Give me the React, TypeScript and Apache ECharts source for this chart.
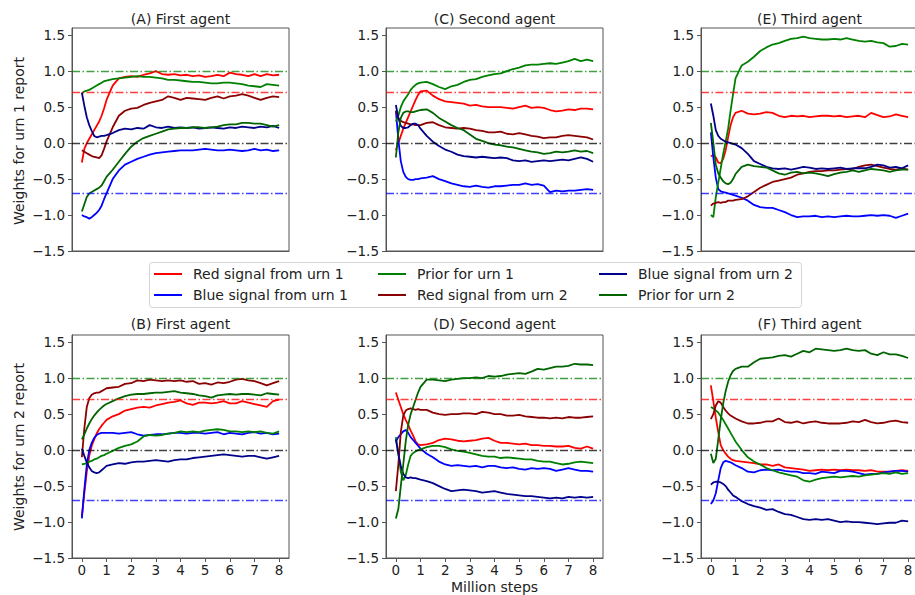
import React, { useEffect, useRef } from "react";
import * as echarts from "echarts";

// x positions (million steps) shared by every curve
const STEPS = [0, 0.1, 0.2, 0.3, 0.4, 0.5, 0.6, 0.7, 0.8, 0.9, 1, 1.25, 1.5, 1.75, 2, 2.25, 2.5, 2.75, 3, 3.25, 3.5, 3.75, 4, 4.25, 4.5, 4.75, 5, 5.25, 5.5, 5.75, 6, 6.25, 6.5, 6.75, 7, 7.25, 7.5, 7.75, 8];

// (A) First agent, urn 1 report
const A_RED1 = [-0.27, -0.08, 0.0, 0.06, 0.12, 0.18, 0.24, 0.3, 0.38, 0.48, 0.6, 0.8, 0.9, 0.92, 0.93, 0.92, 0.95, 0.97, 1.0, 0.96, 0.95, 0.96, 0.94, 0.95, 0.93, 0.94, 0.92, 0.93, 0.95, 0.93, 0.98, 0.96, 0.95, 0.93, 0.96, 0.93, 0.96, 0.94, 0.95];
const A_BLUE1 = [-1.0, -1.02, -1.03, -1.05, -1.03, -1.0, -0.97, -0.93, -0.87, -0.78, -0.7, -0.5, -0.38, -0.3, -0.26, -0.22, -0.19, -0.16, -0.14, -0.13, -0.12, -0.11, -0.1, -0.1, -0.1, -0.09, -0.08, -0.09, -0.1, -0.1, -0.09, -0.1, -0.11, -0.1, -0.08, -0.1, -0.09, -0.11, -0.1];
const A_PRIOR1 = [0.69, 0.72, 0.73, 0.74, 0.76, 0.78, 0.8, 0.82, 0.84, 0.86, 0.87, 0.89, 0.9, 0.91, 0.92, 0.93, 0.92, 0.92, 0.91, 0.9, 0.88, 0.88, 0.87, 0.86, 0.85, 0.85, 0.84, 0.83, 0.83, 0.84, 0.84, 0.83, 0.82, 0.8, 0.79, 0.78, 0.82, 0.81, 0.8];
const A_RED2 = [-0.1, -0.12, -0.14, -0.16, -0.18, -0.19, -0.2, -0.21, -0.17, -0.08, 0.02, 0.22, 0.38, 0.45, 0.48, 0.49, 0.53, 0.56, 0.58, 0.6, 0.65, 0.63, 0.6, 0.63, 0.62, 0.61, 0.6, 0.63, 0.65, 0.62, 0.65, 0.66, 0.68, 0.66, 0.63, 0.6, 0.63, 0.65, 0.64];
const A_BLUE2 = [0.7, 0.52, 0.36, 0.25, 0.17, 0.1, 0.08, 0.09, 0.1, 0.1, 0.11, 0.14, 0.18, 0.2, 0.19, 0.21, 0.2, 0.25, 0.22, 0.21, 0.23, 0.21, 0.22, 0.21, 0.22, 0.2, 0.21, 0.22, 0.21, 0.2, 0.22, 0.21, 0.23, 0.22, 0.21, 0.23, 0.22, 0.24, 0.21];
const A_PRIOR2 = [-0.95, -0.85, -0.75, -0.7, -0.68, -0.66, -0.64, -0.62, -0.59, -0.53, -0.47, -0.37, -0.26, -0.15, -0.05, 0.02, 0.07, 0.1, 0.13, 0.16, 0.19, 0.2, 0.21, 0.21, 0.22, 0.22, 0.21, 0.22, 0.23, 0.25, 0.26, 0.26, 0.28, 0.28, 0.27, 0.27, 0.25, 0.23, 0.25];

// (C) Second agent, urn 1 report
const C_RED1 = [-0.1, 0.0, 0.1, 0.2, 0.28, 0.36, 0.44, 0.52, 0.6, 0.67, 0.72, 0.73, 0.66, 0.61, 0.58, 0.57, 0.56, 0.55, 0.52, 0.53, 0.51, 0.5, 0.5, 0.5, 0.49, 0.48, 0.5, 0.52, 0.49, 0.5, 0.49, 0.46, 0.44, 0.45, 0.47, 0.46, 0.48, 0.48, 0.47];
const C_BLUE1 = [0.45, 0.05, -0.25, -0.4, -0.47, -0.5, -0.51, -0.51, -0.5, -0.5, -0.49, -0.48, -0.46, -0.5, -0.53, -0.56, -0.58, -0.6, -0.61, -0.59, -0.61, -0.62, -0.6, -0.6, -0.59, -0.58, -0.58, -0.56, -0.58, -0.57, -0.59, -0.68, -0.66, -0.67, -0.66, -0.66, -0.65, -0.64, -0.65];
const C_PRIOR1 = [0.3, 0.38, 0.5, 0.58, 0.63, 0.68, 0.74, 0.78, 0.81, 0.83, 0.84, 0.85, 0.82, 0.78, 0.75, 0.79, 0.81, 0.85, 0.88, 0.89, 0.92, 0.94, 0.96, 0.97, 1.0, 1.03, 1.05, 1.08, 1.09, 1.09, 1.1, 1.11, 1.1, 1.12, 1.14, 1.17, 1.14, 1.16, 1.14];
const C_RED2 = [0.45, 0.35, 0.31, 0.29, 0.28, 0.27, 0.26, 0.26, 0.25, 0.25, 0.25, 0.28, 0.29, 0.25, 0.22, 0.21, 0.2, 0.21, 0.2, 0.18, 0.17, 0.15, 0.15, 0.16, 0.13, 0.12, 0.14, 0.12, 0.1, 0.09, 0.07, 0.08, 0.08, 0.1, 0.11, 0.1, 0.09, 0.08, 0.05];
const C_BLUE2 = [0.53, 0.35, 0.24, 0.21, 0.21, 0.22, 0.25, 0.27, 0.27, 0.25, 0.2, 0.1, 0.02, -0.04, -0.09, -0.12, -0.16, -0.18, -0.19, -0.2, -0.19, -0.2, -0.21, -0.2, -0.21, -0.24, -0.25, -0.24, -0.26, -0.25, -0.24, -0.25, -0.24, -0.23, -0.24, -0.22, -0.2, -0.22, -0.26];
const C_PRIOR2 = [-0.2, 0.15, 0.35, 0.42, 0.44, 0.44, 0.43, 0.43, 0.44, 0.45, 0.46, 0.47, 0.42, 0.35, 0.3, 0.25, 0.21, 0.18, 0.12, 0.06, 0.03, 0.0, -0.02, -0.03, -0.05, -0.06, -0.08, -0.1, -0.12, -0.13, -0.15, -0.14, -0.12, -0.13, -0.12, -0.1, -0.12, -0.11, -0.14];

// (E) Third agent, urn 1 report
const E_RED1 = [-0.18, -0.17, -0.2, -0.27, -0.28, -0.22, -0.1, 0.08, 0.25, 0.36, 0.42, 0.45, 0.41, 0.4, 0.41, 0.43, 0.42, 0.38, 0.36, 0.38, 0.37, 0.38, 0.36, 0.37, 0.38, 0.38, 0.37, 0.38, 0.36, 0.37, 0.38, 0.36, 0.42, 0.39, 0.36, 0.37, 0.4, 0.38, 0.36];
const E_BLUE1 = [0.15, -0.2, -0.48, -0.64, -0.67, -0.68, -0.69, -0.7, -0.71, -0.72, -0.73, -0.76, -0.8, -0.86, -0.89, -0.9, -0.9, -0.93, -0.96, -1.0, -1.03, -1.02, -1.02, -1.01, -1.03, -1.02, -1.03, -1.02, -1.01, -1.02, -1.02, -1.01, -1.0, -1.01, -1.0, -1.01, -1.04, -1.01, -0.98];
const E_PRIOR1 = [-1.0, -1.03, -0.75, -0.55, -0.35, -0.15, 0.02, 0.2, 0.45, 0.68, 0.9, 1.08, 1.13, 1.2, 1.28, 1.33, 1.37, 1.39, 1.42, 1.45, 1.46, 1.48, 1.46, 1.45, 1.44, 1.44, 1.45, 1.44, 1.46, 1.44, 1.42, 1.41, 1.42, 1.4, 1.39, 1.34, 1.35, 1.38, 1.37];
const E_RED2 = [-0.87, -0.84, -0.83, -0.82, -0.83, -0.82, -0.82, -0.8, -0.8, -0.8, -0.79, -0.78, -0.74, -0.68, -0.62, -0.58, -0.54, -0.52, -0.5, -0.48, -0.44, -0.42, -0.4, -0.39, -0.39, -0.38, -0.38, -0.37, -0.36, -0.36, -0.33, -0.31, -0.3, -0.32, -0.34, -0.36, -0.37, -0.35, -0.37];
const E_BLUE2 = [0.55, 0.38, 0.18, 0.1, 0.06, 0.04, 0.02, 0.01, 0.0, -0.01, -0.02, -0.07, -0.15, -0.25, -0.29, -0.33, -0.35, -0.36, -0.35, -0.37, -0.35, -0.33, -0.34, -0.36, -0.35, -0.36, -0.35, -0.34, -0.36, -0.35, -0.35, -0.35, -0.33, -0.3, -0.31, -0.34, -0.33, -0.35, -0.31];
const E_PRIOR2 = [0.28, 0.0, -0.3, -0.42, -0.48, -0.53, -0.56, -0.57, -0.55, -0.5, -0.43, -0.33, -0.3, -0.32, -0.33, -0.34, -0.38, -0.42, -0.44, -0.41, -0.4, -0.42, -0.41, -0.42, -0.44, -0.46, -0.43, -0.41, -0.4, -0.38, -0.4, -0.38, -0.36, -0.37, -0.38, -0.4, -0.38, -0.37, -0.37];

// (B) First agent, urn 2 report
const B_RED1 = [-0.92, -0.6, -0.3, -0.08, 0.06, 0.15, 0.23, 0.29, 0.34, 0.38, 0.42, 0.47, 0.5, 0.55, 0.57, 0.59, 0.6, 0.59, 0.62, 0.64, 0.66, 0.67, 0.69, 0.65, 0.63, 0.66, 0.66, 0.65, 0.66, 0.68, 0.65, 0.65, 0.68, 0.66, 0.64, 0.62, 0.6, 0.68, 0.7];
const B_BLUE1 = [-0.95, -0.55, -0.2, 0.0, 0.1, 0.17, 0.21, 0.23, 0.24, 0.24, 0.24, 0.24, 0.23, 0.24, 0.25, 0.22, 0.2, 0.21, 0.22, 0.22, 0.23, 0.24, 0.24, 0.23, 0.24, 0.24, 0.23, 0.24, 0.25, 0.22, 0.24, 0.23, 0.22, 0.24, 0.25, 0.23, 0.24, 0.22, 0.23];
const B_PRIOR1 = [-0.2, -0.19, -0.18, -0.16, -0.15, -0.13, -0.12, -0.1, -0.08, -0.07, -0.05, -0.01, 0.03, 0.06, 0.08, 0.12, 0.19, 0.21, 0.2, 0.21, 0.23, 0.24, 0.26, 0.25, 0.26, 0.25, 0.27, 0.28, 0.29, 0.28, 0.26, 0.26, 0.25, 0.26, 0.25, 0.26, 0.24, 0.23, 0.26];
const B_RED2 = [-0.1, 0.3, 0.6, 0.72, 0.77, 0.79, 0.8, 0.8, 0.82, 0.84, 0.86, 0.87, 0.88, 0.92, 0.93, 0.97, 0.96, 0.98, 0.97, 0.96, 0.97, 0.96, 0.97, 0.95, 0.96, 0.92, 0.93, 0.91, 0.94, 0.93, 0.95, 0.98, 0.99, 0.97, 0.96, 0.93, 0.9, 0.93, 0.96];
const B_BLUE2 = [0.02, -0.08, -0.17, -0.24, -0.29, -0.31, -0.32, -0.31, -0.28, -0.25, -0.22, -0.2, -0.18, -0.19, -0.17, -0.16, -0.16, -0.15, -0.14, -0.15, -0.16, -0.14, -0.13, -0.13, -0.11, -0.1, -0.09, -0.08, -0.07, -0.06, -0.07, -0.08, -0.09, -0.08, -0.08, -0.1, -0.12, -0.1, -0.08];
const B_PRIOR2 = [0.15, 0.22, 0.3, 0.37, 0.43, 0.48, 0.52, 0.56, 0.59, 0.62, 0.64, 0.68, 0.72, 0.75, 0.77, 0.78, 0.78, 0.79, 0.8, 0.8, 0.81, 0.82, 0.8, 0.79, 0.78, 0.76, 0.75, 0.73, 0.76, 0.77, 0.78, 0.77, 0.78, 0.78, 0.77, 0.76, 0.79, 0.78, 0.77];

// (D) Second agent, urn 2 report
const D_RED1 = [0.8, 0.7, 0.6, 0.5, 0.42, 0.35, 0.27, 0.2, 0.12, 0.08, 0.07, 0.08, 0.1, 0.14, 0.16, 0.15, 0.13, 0.12, 0.13, 0.14, 0.16, 0.17, 0.13, 0.1, 0.1, 0.09, 0.08, 0.09, 0.07, 0.07, 0.06, 0.06, 0.05, 0.05, 0.06, 0.03, 0.02, 0.05, 0.02];
const D_BLUE1 = [0.12, 0.18, 0.22, 0.26, 0.28, 0.24, 0.18, 0.14, 0.1, 0.06, 0.02, -0.05, -0.1, -0.16, -0.2, -0.22, -0.21, -0.22, -0.23, -0.22, -0.24, -0.22, -0.22, -0.24, -0.25, -0.24, -0.26, -0.27, -0.25, -0.26, -0.25, -0.26, -0.29, -0.27, -0.25, -0.27, -0.29, -0.29, -0.3];
const D_PRIOR1 = [0.18, -0.05, -0.3, -0.42, -0.35, -0.2, -0.08, -0.04, -0.02, 0.0, 0.01, 0.04, 0.06, 0.06, 0.04, 0.01, -0.01, -0.02, -0.04, -0.06, -0.08, -0.09, -0.09, -0.11, -0.1, -0.11, -0.12, -0.13, -0.13, -0.15, -0.16, -0.16, -0.18, -0.2, -0.19, -0.17, -0.16, -0.17, -0.18];
const D_RED2 = [-0.57, -0.2, 0.25, 0.48, 0.55, 0.57, 0.58, 0.57, 0.56, 0.57, 0.56, 0.56, 0.52, 0.5, 0.49, 0.5, 0.5, 0.51, 0.51, 0.5, 0.53, 0.52, 0.5, 0.5, 0.48, 0.48, 0.49, 0.47, 0.46, 0.45, 0.45, 0.44, 0.45, 0.44, 0.46, 0.45, 0.45, 0.46, 0.47];
const D_BLUE2 = [0.15, -0.05, -0.22, -0.33, -0.38, -0.39, -0.38, -0.39, -0.39, -0.4, -0.41, -0.43, -0.46, -0.5, -0.54, -0.57, -0.56, -0.55, -0.56, -0.57, -0.59, -0.58, -0.57, -0.59, -0.61, -0.62, -0.63, -0.64, -0.64, -0.65, -0.66, -0.67, -0.66, -0.67, -0.65, -0.66, -0.65, -0.66, -0.65];
const D_PRIOR2 = [-0.95, -0.82, -0.5, -0.2, 0.12, 0.35, 0.5, 0.6, 0.7, 0.8, 0.88, 0.98, 0.98, 0.97, 0.96, 0.98, 0.99, 1.0, 1.0, 1.01, 1.0, 1.03, 1.02, 1.03, 1.05, 1.06, 1.07, 1.06, 1.09, 1.13, 1.12, 1.14, 1.16, 1.16, 1.17, 1.2, 1.19, 1.19, 1.18];

// (F) Third agent, urn 2 report
const F_RED1 = [0.9, 0.68, 0.45, 0.25, 0.07, 0.0, -0.05, -0.09, -0.12, -0.14, -0.15, -0.16, -0.17, -0.18, -0.2, -0.2, -0.22, -0.2, -0.24, -0.25, -0.26, -0.27, -0.29, -0.28, -0.27, -0.28, -0.27, -0.28, -0.27, -0.28, -0.28, -0.29, -0.28, -0.3, -0.3, -0.3, -0.29, -0.28, -0.29];
const F_BLUE1 = [-0.75, -0.7, -0.6, -0.42, -0.25, -0.17, -0.15, -0.16, -0.17, -0.19, -0.21, -0.25, -0.3, -0.31, -0.28, -0.27, -0.28, -0.27, -0.29, -0.3, -0.3, -0.32, -0.32, -0.33, -0.3, -0.31, -0.32, -0.29, -0.29, -0.3, -0.32, -0.34, -0.33, -0.33, -0.31, -0.3, -0.29, -0.29, -0.3];
const F_PRIOR1 = [0.6, 0.58, 0.55, 0.52, 0.47, 0.42, 0.36, 0.3, 0.24, 0.18, 0.12, 0.0, -0.1, -0.16, -0.2, -0.25, -0.28, -0.31, -0.33, -0.35, -0.37, -0.42, -0.44, -0.41, -0.39, -0.38, -0.37, -0.38, -0.37, -0.36, -0.37, -0.35, -0.34, -0.33, -0.32, -0.33, -0.31, -0.33, -0.32];
const F_RED2 = [0.43, 0.5, 0.62, 0.68, 0.66, 0.6, 0.55, 0.51, 0.48, 0.46, 0.44, 0.4, 0.37, 0.37, 0.38, 0.4, 0.4, 0.44, 0.39, 0.38, 0.4, 0.37, 0.39, 0.4, 0.38, 0.37, 0.37, 0.37, 0.38, 0.4, 0.39, 0.42, 0.39, 0.37, 0.38, 0.4, 0.41, 0.39, 0.38];
const F_BLUE2 = [-0.48, -0.45, -0.44, -0.44, -0.45, -0.47, -0.5, -0.55, -0.59, -0.63, -0.65, -0.71, -0.75, -0.78, -0.8, -0.83, -0.82, -0.86, -0.89, -0.9, -0.93, -0.96, -0.97, -0.96, -0.97, -0.96, -0.98, -1.0, -0.99, -1.0, -1.0, -1.01, -1.02, -1.03, -1.02, -1.01, -1.01, -0.98, -0.99];
const F_PRIOR2 = [-0.05, -0.18, -0.12, 0.15, 0.42, 0.65, 0.82, 0.95, 1.04, 1.1, 1.13, 1.16, 1.16, 1.22, 1.27, 1.28, 1.29, 1.31, 1.32, 1.3, 1.34, 1.38, 1.36, 1.41, 1.4, 1.39, 1.38, 1.39, 1.41, 1.39, 1.38, 1.39, 1.34, 1.32, 1.36, 1.33, 1.33, 1.31, 1.28];

const SERIES_NAMES = [
  "Red signal from urn 1",
  "Blue signal from urn 1",
  "Prior for urn 1",
  "Red signal from urn 2",
  "Blue signal from urn 2",
  "Prior for urn 2",
];
const SERIES_COLORS = ["#ff0000", "#0000ff", "#008000", "#8b0000", "#00008b", "#006400"];

// panel order: row 1 = A, C, E ; row 2 = B, D, F
const PANEL_TITLES = ["(A) First agent", "(C) Second agent", "(E) Third agent", "(B) First agent", "(D) Second agent", "(F) Third agent"];
const PANEL_DATA = [
  [A_RED1, A_BLUE1, A_PRIOR1, A_RED2, A_BLUE2, A_PRIOR2],
  [C_RED1, C_BLUE1, C_PRIOR1, C_RED2, C_BLUE2, C_PRIOR2],
  [E_RED1, E_BLUE1, E_PRIOR1, E_RED2, E_BLUE2, E_PRIOR2],
  [B_RED1, B_BLUE1, B_PRIOR1, B_RED2, B_BLUE2, B_PRIOR2],
  [D_RED1, D_BLUE1, D_PRIOR1, D_RED2, D_BLUE2, D_PRIOR2],
  [F_RED1, F_BLUE1, F_PRIOR1, F_RED2, F_BLUE2, F_PRIOR2],
];
const ROW_LABELS = ["Weights for urn 1 report", "Weights for urn 2 report"];
const X_LABEL = "Million steps";
const X_TICKS = [0, 1, 2, 3, 4, 5, 6, 7, 8];
const Y_TICKS = [-1.5, -1, -0.5, 0, 0.5, 1, 1.5];
const REF_VALUES = [1, 0.7, 0, -0.7];
const REF_COLORS = ["rgba(0,128,0,0.75)", "rgba(255,0,0,0.75)", "rgba(0,0,0,0.75)", "rgba(0,0,255,0.75)"];

const FONT = "DejaVu Sans";
const COL_LEFT = [72, 386, 701];
const COL_WIDTH = 217;
const ROW_TOP = [28, 335];
const ROW_HEIGHT = 223;

const fmtY = (v: number) => (v < 0 ? "\u2212" : "") + Math.abs(v).toFixed(1);

export default function App() {
  const ref = useRef<HTMLDivElement>(null);

  useEffect(() => {
    if (!ref.current) return;
    const chart = echarts.init(ref.current, undefined, { renderer: "svg" });

    const grids: any[] = [];
    const xAxes: any[] = [];
    const yAxes: any[] = [];
    const series: any[] = [];
    const graphics: any[] = [];

    graphics.push({
      type: "rect",
      z: 0,
      shape: { x: 149.5, y: 262.5, width: 652, height: 45, r: 3 },
      style: { fill: "#ffffff", stroke: "#d4d4d4", lineWidth: 1 },
    });

    PANEL_DATA.forEach((arrs, p) => {
      const row = p < 3 ? 0 : 1;
      const col = p % 3;
      const left = COL_LEFT[col];
      const top = ROW_TOP[row];
      grids.push({
        left,
        top,
        width: COL_WIDTH,
        height: ROW_HEIGHT,
        show: true,
        borderColor: "#555",
        borderWidth: 1,
        backgroundColor: "transparent",
        containLabel: false,
        outerBoundsMode: "none",
      });
      xAxes.push({
        type: "value",
        gridIndex: p,
        min: -0.4,
        max: 8.4,
        splitLine: { show: false },
        axisLine: { show: true, onZero: false, lineStyle: { color: "#555", width: 1 } },
        axisTick: {
          show: row === 1,
          customValues: X_TICKS,
          length: 4,
          lineStyle: { color: "#555" },
        },
        axisLabel: {
          show: row === 1,
          customValues: X_TICKS,
          margin: 5,
          fontSize: 13.5,
          fontFamily: FONT,
          color: "#222",
          formatter: (v: number) => String(v),
        },
      });
      yAxes.push({
        type: "value",
        gridIndex: p,
        min: -1.5,
        max: 1.6,
        splitLine: { show: false },
        axisLine: { show: true, onZero: false, lineStyle: { color: "#555", width: 1 } },
        axisTick: { show: true, customValues: Y_TICKS, length: 4, lineStyle: { color: "#555" } },
        axisLabel: {
          show: true,
          customValues: Y_TICKS,
          margin: 7,
          fontSize: 13.5,
          fontFamily: FONT,
          color: "#222",
          formatter: (v: number) => fmtY(v),
        },
      });

      arrs.forEach((vals, k) => {
        const s: any = {
          type: "line",
          name: SERIES_NAMES[k],
          xAxisIndex: p,
          yAxisIndex: p,
          data: STEPS.map((x, i) => [x, vals[i]]),
          showSymbol: false,
          symbol: "none",
          silent: true,
          lineStyle: { color: SERIES_COLORS[k], width: 1.8 },
          itemStyle: { color: SERIES_COLORS[k] },
          emphasis: { disabled: true },
        };
        if (k === 0) {
          s.markLine = {
            silent: true,
            symbol: ["none", "none"],
            label: { show: false },
            emphasis: { disabled: true },
            data: REF_VALUES.map((v, j) => ({
              yAxis: v,
              lineStyle: { color: REF_COLORS[j], width: 1.4, type: [8, 2.5, 1.5, 2.5] },
            })),
          };
        }
        series.push(s);
      });

      graphics.push({
        type: "text",
        x: left + COL_WIDTH / 2,
        y: row === 0 ? 19 : 324,
        style: {
          text: PANEL_TITLES[p],
          align: "center",
          verticalAlign: "middle",
          fontSize: 14,
          fontFamily: FONT,
          fill: "#222",
        },
      });
    });

    ROW_LABELS.forEach((t, r) => {
      graphics.push({
        type: "text",
        x: 19,
        y: r === 0 ? 141 : 447,
        rotation: Math.PI / 2,
        style: {
          text: t,
          align: "center",
          verticalAlign: "middle",
          fontSize: 14,
          fontFamily: FONT,
          fill: "#222",
        },
      });
    });
    graphics.push({
      type: "text",
      x: COL_LEFT[1] + COL_WIDTH / 2,
      y: 587,
      style: {
        text: X_LABEL,
        align: "center",
        verticalAlign: "middle",
        fontSize: 14,
        fontFamily: FONT,
        fill: "#222",
      },
    });

    const legendCols = [
      { left: 154, data: [SERIES_NAMES[0], SERIES_NAMES[1]] },
      { left: 378, data: [SERIES_NAMES[2], SERIES_NAMES[3]] },
      { left: 599, data: [SERIES_NAMES[4], SERIES_NAMES[5]] },
    ];

    chart.setOption({
      animation: false,
      backgroundColor: "#ffffff",
      grid: grids,
      xAxis: xAxes,
      yAxis: yAxes,
      series,
      graphic: graphics,
      legend: legendCols.map((c) => ({
        orient: "vertical",
        left: c.left,
        top: 266,
        padding: 0,
        data: c.data,
        icon: "rect",
        itemWidth: 28,
        itemHeight: 2,
        itemGap: 5,
        selectedMode: false,
        z: 10,
        textStyle: {
          fontSize: 14,
          fontFamily: FONT,
          color: "#222",
          lineHeight: 16,
          padding: [0, 0, 0, 6],
        },
      })),
    });

    return () => chart.dispose();
  }, []);

  return (
    <div
      ref={ref}
      style={{ position: "fixed", left: 0, top: 0, width: 915, height: 595, background: "#fff" }}
    />
  );
}
